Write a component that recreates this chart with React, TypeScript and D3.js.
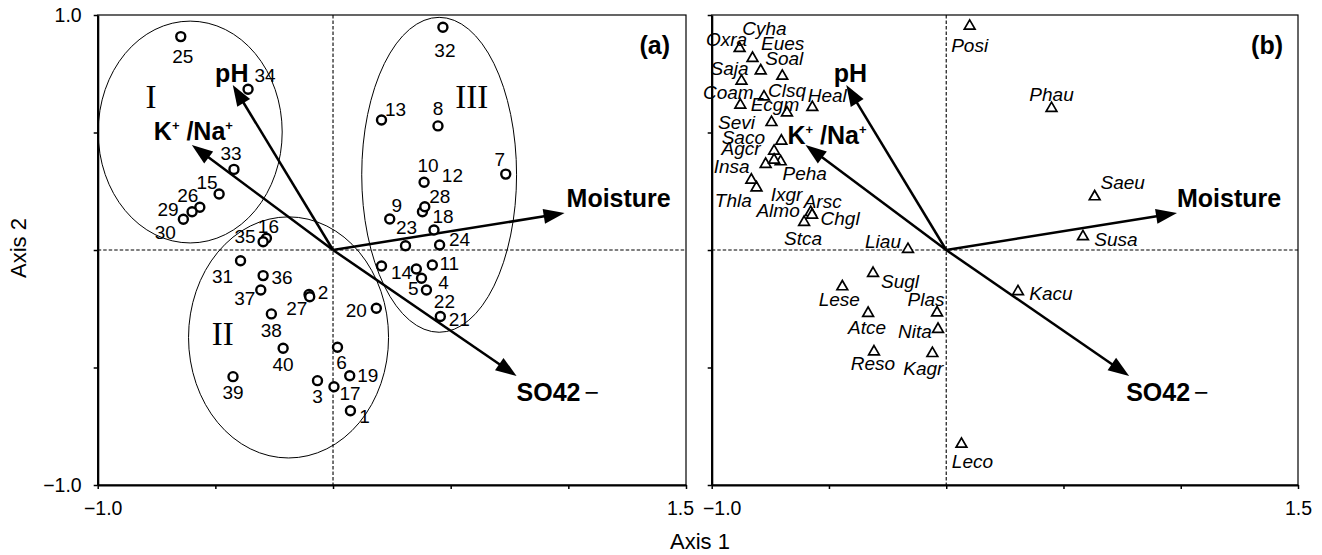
import { useEffect, useRef } from 'react';
import * as d3 from 'd3';

// sample scores (panel a)
const sampleIds = [1, 2, 3, 4, 5, 6, 7, 8, 9, 10, 11, 12, 13, 14, 15, 16, 17, 18, 19, 20,
  21, 22, 23, 24, 25, 26, 27, 28, 29, 30, 31, 32, 33, 34, 35, 36, 37, 38, 39, 40];
const sampleX = [0.074, -0.102, -0.066, 0.376, 0.354, 0.019, 0.734, 0.446, 0.241, 0.387,
  0.422, 0.380, 0.206, 0.206, -0.484, -0.283, 0.004, 0.429, 0.071, 0.184,
  0.456, 0.397, 0.308, 0.453, -0.647, -0.566, -0.099, 0.390, -0.599, -0.636,
  -0.393, 0.467, -0.421, -0.361, -0.297, -0.297, -0.307, -0.262, -0.425, -0.212];
const sampleY = [-0.684, -0.189, -0.556, -0.120, -0.081, -0.414, 0.323, 0.528, 0.132, 0.288,
  -0.064, 0.163, 0.553, -0.068, 0.238, 0.050, -0.582, 0.085, -0.535, -0.248,
  -0.283, -0.170, 0.018, 0.021, 0.908, 0.182, -0.199, 0.184, 0.163, 0.131,
  -0.046, 0.948, 0.343, 0.684, 0.035, -0.109, -0.170, -0.272, -0.539, -0.418];

// species scores (panel b)
const speciesNames = ['Cyha', 'Oxra', 'Eues', 'Soal', 'Saja', 'Coam', 'Clsq', 'Ecgm', 'Heal', 'Sevi',
  'Saco', 'Agcr', 'Insa', 'Peha', 'Almo', 'Ixgr', 'Thla', 'Arsc', 'Chgl', 'Stca',
  'Liau', 'Posi', 'Phau', 'Saeu', 'Susa', 'Kacu', 'Sugl', 'Lese', 'Plas', 'Atce',
  'Nita', 'Reso', 'Kagr', 'Leco'];
const speciesX = [-0.826, -0.881, -0.791, -0.699, -0.873, -0.878, -0.777, -0.679, -0.571, -0.745,
  -0.703, -0.734, -0.770, -0.706, -0.734, -0.809, -0.831, -0.578, -0.572, -0.606,
  -0.163, 0.100, 0.449, 0.633, 0.583, 0.306, -0.312, -0.443, -0.039, -0.333,
  -0.035, -0.308, -0.059, 0.065];
const speciesY = [0.816, 0.858, 0.763, 0.740, 0.719, 0.617, 0.652, 0.584, 0.607, 0.543,
  0.464, 0.421, 0.365, 0.376, 0.383, 0.265, 0.298, 0.160, 0.149, 0.118,
  0.003, 0.953, 0.603, 0.227, 0.057, -0.177, -0.099, -0.156, -0.267, -0.269,
  -0.337, -0.433, -0.440, -0.826];

// environmental vectors
const envNames = ['pH', 'KNa', 'Moisture', 'SO4'];
const envX = [-0.426, -0.600, 0.984, 0.780];
const envY = [0.702, 0.447, 0.157, -0.536];

// sample groups (ellipses, data units)
const groupNames = ['I', 'II', 'III'];
const groupCx = [-0.607, -0.189, 0.451];
const groupCy = [0.502, -0.372, 0.320];
const groupRx = [0.391, 0.425, 0.329];
const groupRy = [0.472, 0.513, 0.670];
const groupLabelX = [-0.774, -0.469, 0.590];
const groupLabelY = [0.655, -0.357, 0.655];

const xTicks = [-1, -0.5, 0, 0.5, 1, 1.5];
const yTicks = [-1, -0.5, 0, 0.5, 1];

// label placement (pixels relative to the marker)
const sampleLabelOffset: Record<number, [number, number]> = {
  1: [14, 6], 2: [14, -2], 3: [0, 16], 4: [22, 4], 5: [-3, 19], 6: [4, 15], 7: [-6, -15],
  8: [0, -18], 9: [7, -14], 10: [4, -17], 11: [17, -2], 12: [30, -36], 13: [14, -11],
  14: [20, 6], 15: [-12, -12], 16: [2, -12], 17: [16, 7], 18: [9, -14], 19: [18, 0],
  20: [-20, 2], 21: [19, 3], 22: [18, 11], 23: [1, -18], 24: [20, -6], 25: [2, 20],
  26: [-12, -12], 27: [-13, 12], 28: [15, -10], 29: [-24, -2], 30: [-18, 13],
  31: [-18, 16], 32: [2, 23], 33: [-3, -16], 34: [17, -14], 35: [-18, -5], 36: [19, 2],
  37: [-16, 8], 38: [0, 16], 39: [0, 16], 40: [0, 16],
};
const speciesLabelOffset: Record<string, [number, number]> = {
  Cyha: [12, -30], Oxra: [-13, -9], Eues: [22, -27], Soal: [2, -18], Saja: [-12, -13],
  Coam: [-12, -13], Clsq: [23, -6], Ecgm: [-12, -8], Heal: [15, -12], Sevi: [-35, 0],
  Saco: [-38, -4], Agcr: [-33, -3], Insa: [-34, 2], Peha: [24, 12], Almo: [4, 50],
  Ixgr: [30, 7], Thla: [-18, 20], Arsc: [12, -11], Chgl: [28, 3], Stca: [-1, 16],
  Liau: [-25, -8], Posi: [0, 19], Phau: [0, -14], Saeu: [28, -14], Susa: [33, 3],
  Kacu: [33, 2], Sugl: [27, 8], Lese: [-3, 13], Plas: [-11, -13], Atce: [-1, 14],
  Nita: [-23, 2], Reso: [-1, 12], Kagr: [-9, 15], Leco: [11, 17],
};
// [dx, dy, anchor] per panel
const envLabelA: Record<string, [number, number, string]> = {
  pH: [-1, -12, 'middle'], KNa: [-38, -14, 'start'], Moisture: [2, -15, 'start'], SO4: [0, 16, 'start'],
};
const envLabelB: Record<string, [number, number, string]> = {
  pH: [4, -12, 'middle'], KNa: [-18, -10, 'start'], Moisture: [0, -15, 'start'], SO4: [-3, 16, 'start'],
};

const SANS = "'Liberation Sans', Arial, sans-serif";
const SERIF = "'Liberation Serif', 'Times New Roman', serif";

type Sel = d3.Selection<SVGGElement, unknown, null, undefined>;

function drawFrame(g: Sel, x: d3.ScaleLinear<number, number>, y: d3.ScaleLinear<number, number>, yLabels: boolean, xFmt: (d: number) => string) {
  g.append('rect')
    .attr('x', x(-1)).attr('y', y(1)).attr('width', x(1.5) - x(-1)).attr('height', y(-1) - y(1))
    .attr('fill', 'none').attr('stroke', '#000').attr('stroke-width', 1.2);

  g.append('line').attr('x1', x(0)).attr('x2', x(0)).attr('y1', y(1)).attr('y2', y(-1))
    .attr('stroke', '#000').attr('stroke-width', 1.1).attr('stroke-dasharray', '3.5,2');
  g.append('line').attr('x1', x(-1)).attr('x2', x(1.5)).attr('y1', y(0)).attr('y2', y(0))
    .attr('stroke', '#000').attr('stroke-width', 1.1).attr('stroke-dasharray', '3.5,2');

  const ya = g.append('g').attr('transform', `translate(${x(-1)},0)`)
    .call(d3.axisLeft(y).tickValues(yTicks).tickSize(4).tickSizeOuter(0).tickPadding(12)
      .tickFormat(d => (yLabels && Math.abs(+d) === 1 ? (+d < 0 ? '\u22121.0' : '1.0') : '')));
  const xa = g.append('g').attr('transform', `translate(0,${y(-1)})`)
    .call(d3.axisBottom(x).tickValues(xTicks).tickSize(4).tickSizeOuter(0).tickPadding(12)
      .tickFormat(d => xFmt(+d)));
  [ya, xa].forEach(a => {
    a.select('.domain').attr('stroke-width', 2.2);
    a.selectAll('.tick line').attr('stroke-width', 1.5);
    a.selectAll('.tick text').style('font-size', '19.5px').style('font-family', SANS).attr('fill', '#000');
  });
  return xa;
}

function drawArrows(g: Sel, x: d3.ScaleLinear<number, number>, y: d3.ScaleLinear<number, number>, lab: Record<string, [number, number, string]>) {
  const ox = x(0), oy = y(0);
  envNames.forEach((name, i) => {
    const tx = x(envX[i]), ty = y(envY[i]);
    const len = Math.hypot(tx - ox, ty - oy);
    const ux = (tx - ox) / len, uy = (ty - oy) / len;
    const hl = 21, hw = 7.5;
    const bx = tx - ux * hl, by = ty - uy * hl;
    g.append('line').attr('x1', ox).attr('y1', oy).attr('x2', bx + ux * 2).attr('y2', by + uy * 2)
      .attr('stroke', '#000').attr('stroke-width', 2.5);
    g.append('path')
      .attr('d', `M${tx},${ty}L${bx - uy * hw},${by + ux * hw}L${bx + uy * hw},${by - ux * hw}Z`)
      .attr('fill', '#000');

    const [dx, dy, anchor] = lab[name];
    const t = g.append('text').attr('x', tx + dx).attr('y', ty + dy).attr('dy', '0.35em')
      .attr('text-anchor', anchor).style('font-family', SANS).style('font-weight', 'bold')
      .style('font-size', '25px').attr('fill', '#000');
    if (name === 'KNa') {
      t.append('tspan').text('K');
      t.append('tspan').attr('dy', -10).style('font-size', '13px').text('+');
      t.append('tspan').attr('dy', 10).text(' /Na');
      t.append('tspan').attr('dy', -10).style('font-size', '13px').text('+');
    } else if (name === 'SO4') {
      t.append('tspan').text('SO42');
      t.append('tspan').style('font-weight', 'normal').attr('dx', 4).text('\u2212');
    } else {
      t.text(name);
    }
  });
}

export default function App() {
  const ref = useRef<SVGSVGElement>(null);

  useEffect(() => {
    const svg = d3.select(ref.current as SVGSVGElement);
    svg.selectAll('*').remove();

    const y = d3.scaleLinear().domain([-1, 1]).range([485, 15]);
    const xA = d3.scaleLinear().domain([-1, 1.5]).range([97.7, 686]);
    const xB = d3.scaleLinear().domain([-1, 1.5]).range([711.7, 1298]);

    // ---------- panel (a)
    const ga = svg.append('g') as unknown as Sel;
    const xaA = drawFrame(ga, xA, y, true, d => (d === -1 ? '\u22121.0' : d === 1.5 ? '1.5' : ''));
    xaA.selectAll<SVGTextElement, number>('.tick text').attr('dx', d => (d === -1 ? 5 : d === 1.5 ? -6 : 0));

    groupNames.forEach((name, i) => {
      ga.append('ellipse')
        .attr('cx', xA(groupCx[i])).attr('cy', y(groupCy[i]))
        .attr('rx', xA(groupRx[i]) - xA(0)).attr('ry', y(0) - y(groupRy[i]))
        .attr('fill', 'none').attr('stroke', '#000').attr('stroke-width', 1);
      ga.append('text').attr('x', xA(groupLabelX[i])).attr('y', y(groupLabelY[i])).attr('dy', '0.35em')
        .attr('text-anchor', 'middle').style('font-family', SERIF).style('font-size', '33px')
        .attr('fill', '#000').text(name);
    });

    drawArrows(ga, xA, y, envLabelA);

    sampleIds.forEach((id, i) => {
      const cx = xA(sampleX[i]), cy = y(sampleY[i]);
      ga.append('circle').attr('cx', cx).attr('cy', cy).attr('r', 4.5)
        .attr('fill', '#fff').attr('stroke', '#000').attr('stroke-width', 2.4);
    });
    sampleIds.forEach((id, i) => {
      const [dx, dy] = sampleLabelOffset[id];
      ga.append('text').attr('x', xA(sampleX[i]) + dx).attr('y', y(sampleY[i]) + dy).attr('dy', '0.35em')
        .attr('text-anchor', 'middle').style('font-family', SANS).style('font-size', '19px')
        .attr('fill', '#000').text(id);
    });

    ga.append('text').attr('x', 670).attr('y', 45).attr('dy', '0.35em').attr('text-anchor', 'end')
      .style('font-family', SANS).style('font-weight', 'bold').style('font-size', '25px').text('(a)');

    // ---------- panel (b)
    const gb = svg.append('g') as unknown as Sel;
    const xaB = drawFrame(gb, xB, y, false, d => (d === -1 ? '\u22121.0' : d === 1.5 ? '1.5' : ''));
    xaB.selectAll<SVGTextElement, number>('.tick text').attr('dx', d => (d === -1 ? 10 : 0));

    drawArrows(gb, xB, y, envLabelB);

    const tri = d3.symbol().type(d3.symbolTriangle).size(50);
    speciesNames.forEach((name, i) => {
      gb.append('path').attr('d', tri() as string)
        .attr('transform', `translate(${xB(speciesX[i])},${y(speciesY[i])})`)
        .attr('fill', '#fff').attr('stroke', '#000').attr('stroke-width', 1.7);
    });
    speciesNames.forEach((name, i) => {
      const [dx, dy] = speciesLabelOffset[name];
      gb.append('text').attr('x', xB(speciesX[i]) + dx).attr('y', y(speciesY[i]) + dy).attr('dy', '0.35em')
        .attr('text-anchor', 'middle').style('font-family', SANS).style('font-style', 'italic')
        .style('font-size', '19px').attr('fill', '#000').text(name);
    });

    gb.append('text').attr('x', 1283).attr('y', 45).attr('dy', '0.35em').attr('text-anchor', 'end')
      .style('font-family', SANS).style('font-weight', 'bold').style('font-size', '25px').text('(b)');

    // ---------- axis titles
    svg.append('text').attr('x', 700).attr('y', 541).attr('dy', '0.35em').attr('text-anchor', 'middle')
      .style('font-family', SANS).style('font-size', '22px').text('Axis 1');
    svg.append('text').attr('transform', 'translate(18,248) rotate(-90)').attr('dy', '0.35em')
      .attr('text-anchor', 'middle').style('font-family', SANS).style('font-size', '22px').text('Axis 2');
  }, []);

  return (
    <svg ref={ref} width={1322} height={555}
      style={{ position: 'absolute', left: 0, top: 0, background: '#fff' }} />
  );
}
